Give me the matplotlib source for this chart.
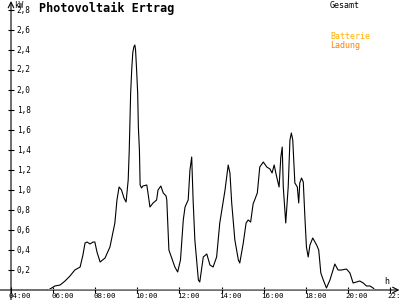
import matplotlib
matplotlib.use("Agg")
import matplotlib.pyplot as plt

# Messwerte Gesamtleistung (kW) über den Tag
zeiten = ["05:46", "05:51", "06:05", "06:20", "06:34", "06:48", "07:02", "07:17",
          "07:25", "07:31", "07:37", "07:45", "07:54", "07:59", "08:05", "08:14",
          "08:28", "08:42", "08:56", "09:02", "09:08", "09:15", "09:22", "09:28",
          "09:34", "09:37", "09:39", "09:41", "09:44", "09:47", "09:50", "09:53",
          "09:55", "09:58", "10:01", "10:03", "10:06", "10:08", "10:12", "10:16",
          "10:27", "10:30", "10:36", "10:45", "10:55", "10:59", "11:07", "11:14",
          "11:22", "11:24", "11:30", "11:38", "11:47", "11:55", "12:03", "12:11",
          "12:16", "12:25", "12:30", "12:35", "12:39", "12:44", "12:54", "12:58",
          "13:08", "13:18", "13:27", "13:36", "13:46", "13:55", "14:10", "14:19",
          "14:24", "14:29", "14:38", "14:48", "14:52", "15:02", "15:10", "15:16",
          "15:23", "15:30", "15:42", "15:49", "15:59", "16:09", "16:18", "16:24",
          "16:30", "16:36", "16:44", "16:49", "16:53", "16:56", "17:03", "17:10",
          "17:15", "17:19", "17:23", "17:29", "17:36", "17:40", "17:43", "17:48",
          "17:53", "17:58", "18:02", "18:07", "18:12", "18:20", "18:31", "18:37",
          "18:43", "18:50", "18:59", "19:09", "19:23", "19:32", "19:42", "19:56",
          "20:06", "20:15", "20:25", "20:34", "20:44", "20:53", "21:03", "21:12",
          "21:17"]
gesamt = [0.00, 0.01, 0.04, 0.05, 0.09, 0.14, 0.20, 0.23,
          0.35, 0.47, 0.48, 0.46, 0.48, 0.48, 0.38, 0.28,
          0.32, 0.43, 0.67, 0.90, 1.03, 1.00, 0.92, 0.88,
          1.10, 1.40, 1.67, 1.97, 2.20, 2.37, 2.43, 2.45,
          2.40, 2.20, 1.97, 1.63, 1.40, 1.05, 1.02, 1.04,
          1.05, 0.98, 0.83, 0.87, 0.90, 1.00, 1.04, 0.97,
          0.94, 0.90, 0.40, 0.32, 0.23, 0.18, 0.30, 0.70,
          0.83, 0.90, 1.20, 1.33, 0.90, 0.50, 0.10, 0.08,
          0.33, 0.36, 0.25, 0.23, 0.33, 0.67, 1.00, 1.25,
          1.17, 0.87, 0.50, 0.30, 0.27, 0.47, 0.67, 0.70,
          0.68, 0.86, 0.97, 1.23, 1.28, 1.23, 1.21, 1.17,
          1.25, 1.15, 1.03, 1.33, 1.43, 1.03, 0.67, 1.03,
          1.50, 1.57, 1.50, 1.07, 1.03, 0.87, 1.07, 1.12,
          1.08, 0.70, 0.43, 0.33, 0.45, 0.52, 0.45, 0.40,
          0.17, 0.10, 0.02, 0.10, 0.26, 0.20, 0.20, 0.21,
          0.17, 0.07, 0.08, 0.09, 0.07, 0.04, 0.04, 0.02,
          0.00]
# Batterie-Ladung (kW), den ganzen Tag 0
ladung_zeiten = ["05:46", "21:17"]
ladung = [0.0, 0.0]

y_ticks = [0.2, 0.4, 0.6, 0.8, 1.0, 1.2, 1.4, 1.6, 1.8, 2.0, 2.2, 2.4, 2.6, 2.8]
y_labels = ["0,2", "0,4", "0,6", "0,8", "1,0", "1,2", "1,4", "1,6", "1,8",
            "2,0", "2,2", "2,4", "2,6", "2,8"]
x_ticks = [4, 6, 8, 10, 12, 14, 16, 18, 20, 22]
x_labels = ["04:00", "06:00", "08:00", "10:00", "12:00", "14:00", "16:00",
            "18:00", "20:00", "22:"]


def stunden(s):
    h, m = s.split(":")
    return int(h) + int(m) / 60.0


t_gesamt = [stunden(s) for s in zeiten]
t_ladung = [stunden(s) for s in ladung_zeiten]

ORANGE = "#FF8000"
GELB = "#FFB000"
MONO = "DejaVu Sans Mono"

fig = plt.figure(figsize=(4, 3), dpi=100)
ax = fig.add_axes([11 / 400, 10 / 300, 388 / 400, 288 / 300])
ax.set_xlim(4, 22.43)
ax.set_ylim(0, 2.88)
for s in ax.spines.values():
    s.set_visible(False)

# Achsen mit Pfeilen
ax.annotate("", xy=(22.45, 0), xytext=(3.45, 0), xycoords="data",
            arrowprops=dict(arrowstyle="->,head_length=0.4,head_width=0.2",
                            lw=0.8, color="black", shrinkA=0, shrinkB=0),
            annotation_clip=False)
ax.annotate("", xy=(4, 2.89), xytext=(4, -0.1), xycoords="data",
            arrowprops=dict(arrowstyle="->,head_length=0.4,head_width=0.2",
                            lw=0.8, color="black", shrinkA=0, shrinkB=0),
            annotation_clip=False)

ax.plot(t_gesamt, gesamt, color="black", lw=0.8, zorder=3)
ax.plot(t_ladung, ladung, color=ORANGE, lw=1.2, zorder=4, solid_capstyle="butt")

ax.set_xticks(x_ticks)
ax.set_yticks(y_ticks)
ax.set_xticklabels([])
ax.set_yticklabels([])
ax.tick_params(direction="inout", length=5, width=0.8, color="black")

for v, lab in zip(y_ticks, y_labels):
    ax.annotate(lab, xy=(4, v), xytext=(4, 0), textcoords="offset points",
                ha="left", va="center", fontsize=5.6, family=MONO)
for v, lab in zip(x_ticks, x_labels):
    ax.annotate(lab, xy=(v, 0), xytext=(-1.5, -1.8), textcoords="offset points",
                ha="left", va="top", fontsize=5.4, family=MONO,
                annotation_clip=False)

fig.text(14 / 400, 1 - 1 / 300, "kW", ha="left", va="top", fontsize=5.6,
         family=MONO)
fig.text(384 / 400, 1 - 282 / 300, "h", ha="left", va="center", fontsize=6,
         family=MONO)
fig.text(39 / 400, 1 - 2 / 300, "Photovoltaik Ertrag", ha="left", va="top",
         fontsize=8.5, family=MONO, fontweight="bold")
fig.text(330 / 400, 1 - 1.5 / 300, "Gesamt", ha="left", va="top", fontsize=6,
         family=MONO)
fig.text(330 / 400, 1 - 32 / 300, "Batterie", ha="left", va="top", fontsize=6,
         family=MONO, color=GELB)
fig.text(330 / 400, 1 - 41 / 300, "Ladung", ha="left", va="top", fontsize=6,
         family=MONO, color=ORANGE)

fig.savefig("out.png", dpi=100)
